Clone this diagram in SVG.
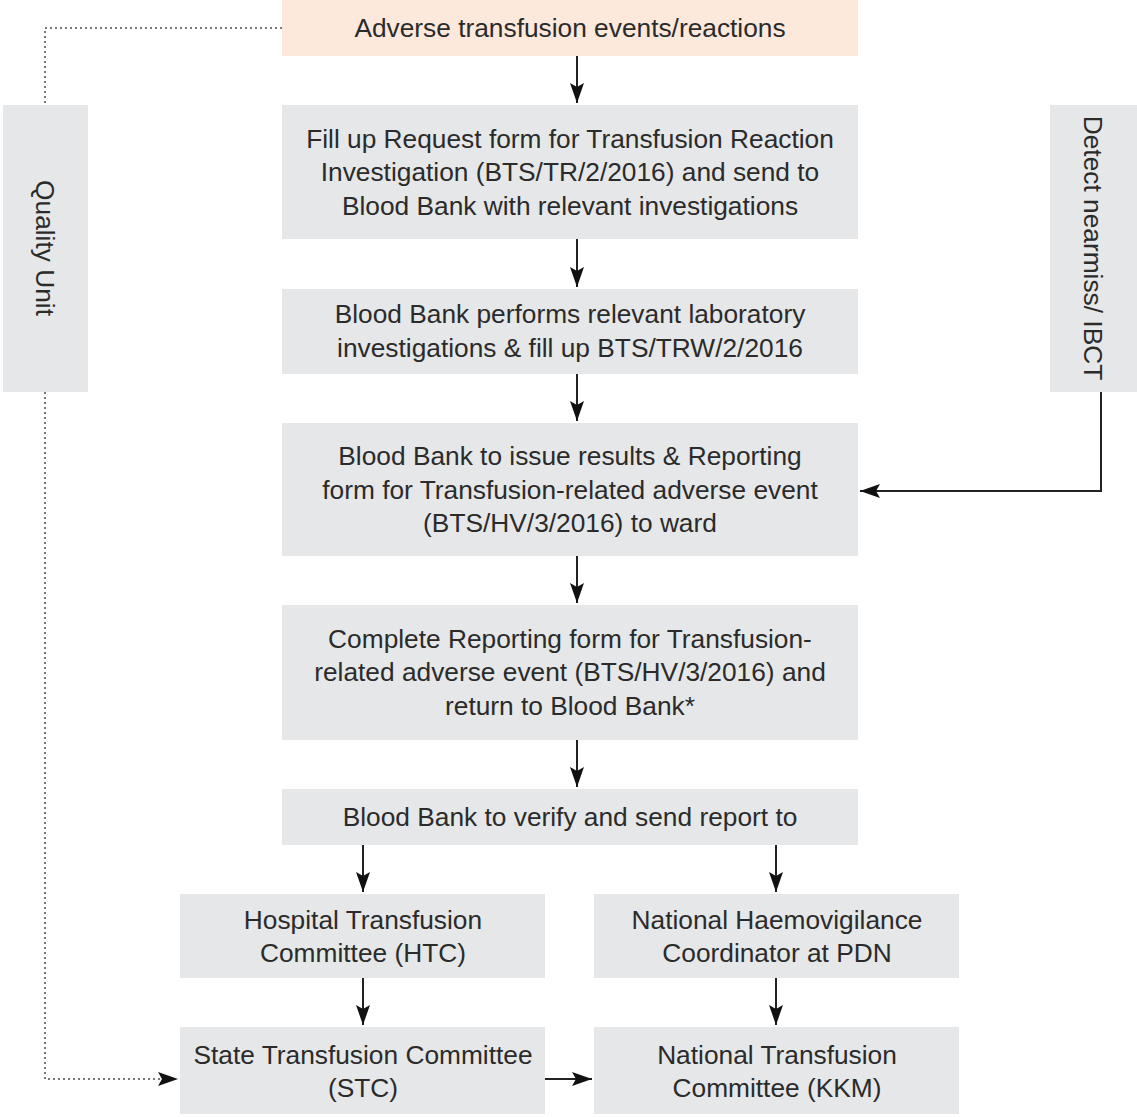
<svg xmlns="http://www.w3.org/2000/svg" width="1137" height="1117" viewBox="0 0 1137 1117">
  <defs>
    <style>
      .box { fill: #e6e7e8; }
      .start { fill: #fde8dc; }
      .t { font-family: "Liberation Sans", Arial, sans-serif; font-size: 26.3px; fill: #2b2b2b; text-anchor: middle; dominant-baseline: central; }
      .solid { stroke: #222; stroke-width: 2; fill: none; }
      .dotted { stroke: #777; stroke-width: 2; stroke-dasharray: 2 3; fill: none; }
    </style>
    <marker id="ahl" viewBox="0 0 20 14" refX="20" refY="7" markerWidth="20" markerHeight="14" markerUnits="userSpaceOnUse" orient="auto">
      <path d="M0,0 L20,7 L0,14 L4,7 z" fill="#111"/>
    </marker>
  </defs>

  <!-- connectors -->
  <g id="connectors">
    <path class="solid" d="M577,56 V103" marker-end="url(#ahl)"/>
    <path class="solid" d="M577,239 V287" marker-end="url(#ahl)"/>
    <path class="solid" d="M577,374 V421" marker-end="url(#ahl)"/>
    <path class="solid" d="M577,556 V603" marker-end="url(#ahl)"/>
    <path class="solid" d="M577,740 V787" marker-end="url(#ahl)"/>
    <path class="solid" d="M363,845 V892" marker-end="url(#ahl)"/>
    <path class="solid" d="M776,845 V892" marker-end="url(#ahl)"/>
    <path class="solid" d="M363,978 V1025" marker-end="url(#ahl)"/>
    <path class="solid" d="M776,978 V1025" marker-end="url(#ahl)"/>
    <path class="solid" d="M545,1079 H592" marker-end="url(#ahl)"/>
    <path class="solid" d="M1101,392 V491 H860" marker-end="url(#ahl)"/>
    <path class="dotted" d="M282,28 H45 V105"/>
    <path class="dotted" d="M45,392 V1079 H178" marker-end="url(#ahl)"/>
  </g>

  <g id="n-adverse">
    <rect class="start" x="282" y="0" width="576" height="56"/>
    <text class="t" x="570" y="28">Adverse transfusion events/reactions</text>
  </g>

  <g id="n-request">
    <rect class="box" x="282" y="105" width="576" height="134"/>
    <text class="t" x="570" y="139">Fill up Request form for Transfusion Reaction</text>
    <text class="t" x="570" y="172">Investigation (BTS/TR/2/2016) and send to</text>
    <text class="t" x="570" y="206">Blood Bank with relevant investigations</text>
  </g>

  <g id="n-lab">
    <rect class="box" x="282" y="289" width="576" height="85"/>
    <text class="t" x="570" y="314">Blood Bank performs relevant laboratory</text>
    <text class="t" x="570" y="348">investigations &amp; fill up BTS/TRW/2/2016</text>
  </g>

  <g id="n-issue">
    <rect class="box" x="282" y="423" width="576" height="133"/>
    <text class="t" x="570" y="456">Blood Bank to issue results &amp; Reporting</text>
    <text class="t" x="570" y="490">form for Transfusion-related adverse event</text>
    <text class="t" x="570" y="523">(BTS/HV/3/2016) to ward</text>
  </g>

  <g id="n-complete">
    <rect class="box" x="282" y="605" width="576" height="135"/>
    <text class="t" x="570" y="639">Complete Reporting form for Transfusion-</text>
    <text class="t" x="570" y="672">related adverse event (BTS/HV/3/2016) and</text>
    <text class="t" x="570" y="706">return to Blood Bank*</text>
  </g>

  <g id="n-verify">
    <rect class="box" x="282" y="789" width="576" height="56"/>
    <text class="t" x="570" y="817">Blood Bank to verify and send report to</text>
  </g>

  <g id="n-htc">
    <rect class="box" x="180" y="894" width="365" height="84"/>
    <text class="t" x="363" y="920">Hospital Transfusion</text>
    <text class="t" x="363" y="953">Committee (HTC)</text>
  </g>

  <g id="n-nhc">
    <rect class="box" x="594" y="894" width="365" height="84"/>
    <text class="t" x="777" y="920">National Haemovigilance</text>
    <text class="t" x="777" y="953">Coordinator at PDN</text>
  </g>

  <g id="n-stc">
    <rect class="box" x="180" y="1027" width="365" height="87"/>
    <text class="t" x="363" y="1055">State Transfusion Committee</text>
    <text class="t" x="363" y="1088">(STC)</text>
  </g>

  <g id="n-ntc">
    <rect class="box" x="594" y="1027" width="365" height="87"/>
    <text class="t" x="777" y="1055">National Transfusion</text>
    <text class="t" x="777" y="1088">Committee (KKM)</text>
  </g>

  <g id="n-quality">
    <rect class="box" x="3" y="105" width="85" height="287"/>
    <text class="t" transform="translate(45,248) rotate(90)">Quality Unit</text>
  </g>

  <g id="n-nearmiss">
    <rect class="box" x="1050" y="105" width="87" height="287"/>
    <text class="t" transform="translate(1093,248) rotate(90)">Detect nearmiss/ IBCT</text>
  </g>
</svg>
